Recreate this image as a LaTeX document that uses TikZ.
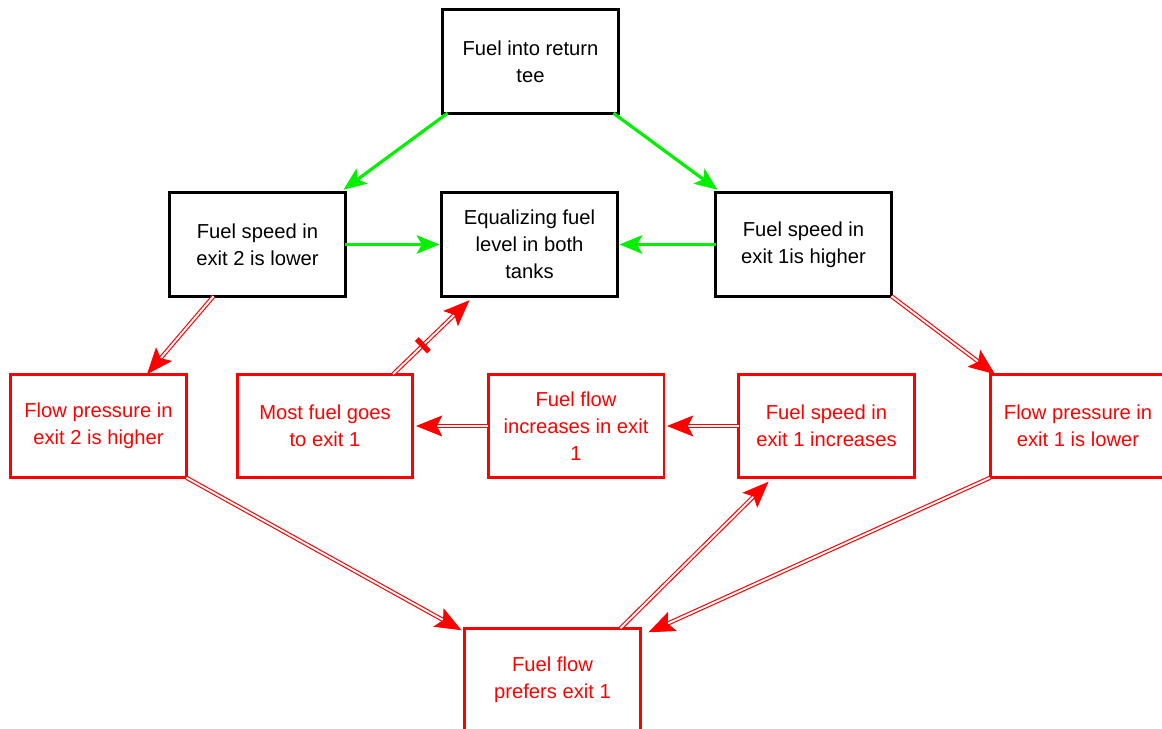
\documentclass[tikz,border=0pt]{standalone}
\usepackage{fontspec}
\setmainfont{Liberation Sans}
\usetikzlibrary{arrows.meta,calc}
\definecolor{flowred}{RGB}{255,0,0}
\definecolor{flowgreen}{RGB}{0,240,0}
\tikzset{
  box/.style={draw, line width=1.7pt, minimum width=3.52cm, minimum height=2.07cm,
    inner sep=0pt, outer sep=0pt, align=center,
    font=\fontsize{11.5pt}{15.3pt}\selectfont},
  blackbox/.style={box, draw=black, text=black},
  redbox/.style={box, draw=flowred, text=flowred},
  greenarrow/.style={draw=flowgreen, line width=1.8pt,
    -{Stealth[length=13pt,width=10.5pt,inset=3pt]}},
  redarrow/.style={draw=flowred, double=white, line width=0.65pt, double distance=1.1pt,
    -{Stealth[length=15pt,width=12pt,inset=3pt]}},
  crossbar/.style={fill=flowred, sloped, minimum width=3pt, minimum height=10pt,
    inner sep=0pt}
}
\begin{document}
\begin{tikzpicture}[x=0.02cm, y=-0.02cm]
  \useasboundingbox (0,0) rectangle (1162,729);
  \clip (0,0) rectangle (1162,729);

  % top row and the three speed/level boxes
  \node[blackbox] (tee)  at (530.5,61.5)  {Fuel into return\\tee};
  \node[blackbox] (sp2)  at (257.5,244.5) {Fuel speed in\\exit 2 is lower};
  \node[blackbox] (eq)   at (529.5,244.5) {Equalizing fuel\\level in both\\tanks};
  \node[blackbox] (sp1)  at (803.5,244.5) {Fuel speed in\\exit 1is higher};

  % red chain
  \node[redbox] (fp2)   at (98.5,426)  {Flow pressure in\\exit 2 is higher};
  \node[redbox] (most)  at (325,426)   {Most fuel goes\\to exit 1};
  \node[redbox] (inc)   at (576,426)   {Fuel flow\\increases in exit\\1};
  \node[redbox] (spinc) at (826.5,426) {Fuel speed in\\exit 1 increases};
  \node[redbox] (fp1)   at (1078,426)  {Flow pressure in\\exit 1 is lower};
  \node[redbox] (pref)  at (552.5,680) {Fuel flow\\prefers exit 1};

  % green connectors
  \draw[greenarrow] ($(tee.south west)+(5,0)$) -- ($(sp2.north east)+(-2,-3)$);
  \draw[greenarrow] ($(tee.south east)+(-5,0)$) -- ($(sp1.north west)+(2,-3)$);
  \draw[greenarrow] (sp2.east) -- ($(eq.west)+(-2,0)$);
  \draw[greenarrow] (sp1.west) -- ($(eq.east)+(2,0)$);

  % red connectors
  \draw[redarrow] ($(sp2.south west)+(44,0)$) -- ($(fp2.north)+(48.5,0)$);
  \draw[redarrow] (sp1.south east) -- ($(fp1.north west)+(5,0)$);
  \draw[redarrow] ($(most.north)+(68,0)$) -- ($(eq.south west)+(28,4)$)
    node[crossbar, pos=0.39] (bar) {};
  \draw[redarrow] (inc.west) -- ($(most.east)+(3,0)$);
  \draw[redarrow] (spinc.west) -- ($(inc.east)+(3,0)$);
  \draw[redarrow] (fp2.south east) -- ($(pref.north west)+(-3,2)$);
  \draw[redarrow] (fp1.south west) -- ($(pref.north east)+(8,4)$);
  \draw[redarrow] ($(pref.north)+(68,0)$) -- ($(spinc.south west)+(30,4)$);
\end{tikzpicture}
\end{document}
